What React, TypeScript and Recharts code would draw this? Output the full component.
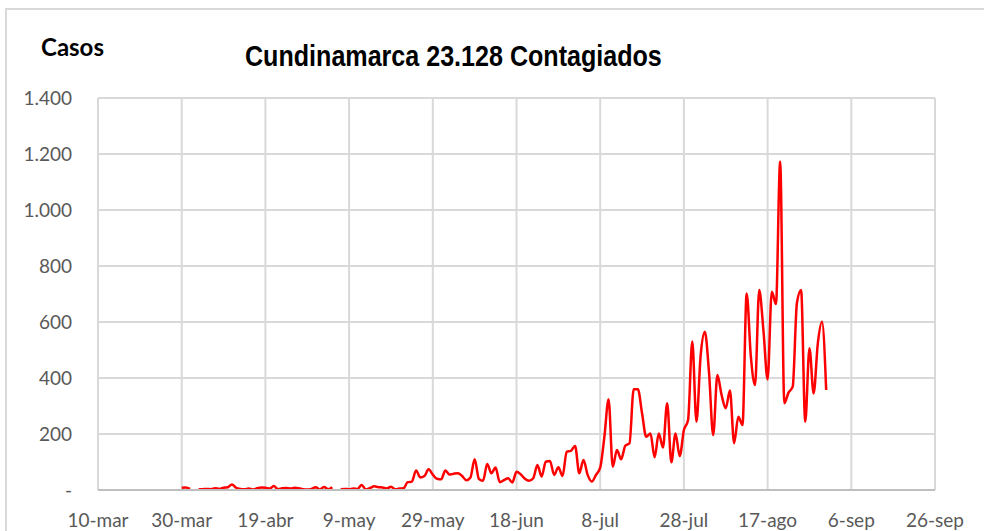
import { LineChart, Line, XAxis, YAxis, CartesianGrid } from 'recharts';

// dias contados desde el 10-mar
const xTicks = [0, 20, 40, 60, 80, 100, 120, 140, 160, 180, 200];
const xLabels = ['10-mar', '30-mar', '19-abr', '9-may', '29-may', '18-jun', '8-jul', '28-jul', '17-ago', '6-sep', '26-sep'];
const yTicks = [0, 200, 400, 600, 800, 1000, 1200, 1400];

// primer dato: 30-mar (dia 20)
const firstDay = 20;
const casos: (number | null)[] = [
  8, 9, 4, null, 2, 3, 4, 3, 6, 4,
  8, 10, 20, 8, 4, 3, 5, 2, 6, 9,
  8, 5, 14, 3, 6, 7, 5, 8, 6, 3,
  2, 4, 10, 2, 11, 3, 10, null, 3, 4,
  3, 5, 4, 18, 2, 7, 13, 10, 9, 5,
  12, 3, 5, 6, 28, 30, 70, 45, 50, 74,
  55, 40, 38, 70, 55, 58, 60, 50, 35, 45,
  110, 40, 33, 93, 60, 80, 28, 35, 42, 27,
  65, 56, 40, 33, 42, 89, 48, 101, 104, 54,
  81, 50, 137, 140, 157, 60, 107, 54, 30, 54,
  80, 190, 324, 83, 143, 110, 158, 167, 360, 360,
  274, 190, 202, 117, 202, 152, 310, 99, 202, 121,
  214, 250, 530, 244, 480, 565, 420, 196, 411, 340,
  292, 355, 167, 262, 232, 702, 476, 375, 714, 571,
  395, 708, 664, 1173, 310, 348, 369, 667, 714, 244,
  506, 345, 524, 601, 357,
];

const data = casos.map((v, i) => ({ dia: firstDay + i, casos: v }));

const fmtY = (v: number) => (v === 0 ? '-' : v.toString().replace(/\B(?=(\d{3})+(?!\d))/g, '.'));
const fmtX = (v: number) => xLabels[xTicks.indexOf(v)] ?? '';

const tickFont = { fontFamily: 'Lato, "Open Sans", sans-serif', fontSize: 19, fill: '#595959' };

export default function App() {
  return (
    <div style={{ position: 'fixed', left: 0, top: 0, width: 984, height: 531, background: '#fff', overflow: 'hidden' }}>
      <div
        style={{
          position: 'absolute', left: 5, top: 8, width: 1000, height: 600,
          border: '2px solid #d9d9d9', boxSizing: 'border-box',
        }}
      />
      <div
        style={{
          position: 'absolute', left: 41, top: 35, fontFamily: 'Lato, sans-serif',
          fontWeight: 700, fontSize: 24, lineHeight: 1, color: '#000', whiteSpace: 'nowrap',
        }}
      >
        Casos
      </div>
      <div
        style={{
          position: 'absolute', left: 245, top: 41.5, whiteSpace: 'nowrap',
          fontFamily: '"Liberation Sans", Arial, sans-serif', lineHeight: 1,
          fontWeight: 700, fontSize: 29, color: '#000',
          transform: 'scaleX(0.865)', transformOrigin: 'left top',
        }}
      >
        Cundinamarca 23.128 Contagiados
      </div>
      <div style={{ position: 'absolute', left: 0, top: 0 }}>
        <LineChart width={984} height={531} data={data} margin={{ top: 98, right: 49, bottom: 11, left: 38 }}>
          <CartesianGrid stroke="#d9d9d9" strokeWidth={2} />
          <XAxis
            dataKey="dia"
            type="number"
            domain={[0, 200]}
            ticks={xTicks}
            tickFormatter={fmtX}
            interval={0}
            height={30}
            tickLine={false}
            tickSize={0}
            tickMargin={24}
            stroke="#bfbfbf"
            strokeWidth={2}
            tick={tickFont}
          />
          <YAxis
            type="number"
            domain={[0, 1400]}
            ticks={yTicks}
            tickFormatter={fmtY}
            interval={0}
            width={60}
            axisLine={false}
            tickLine={false}
            tickSize={0}
            tickMargin={26}
            tick={tickFont}
          />
          <Line
            dataKey="casos"
            type="monotone"
            stroke="#ff0000"
            strokeWidth={2.5}
            dot={false}
            activeDot={false}
            isAnimationActive={false}
          />
        </LineChart>
      </div>
    </div>
  );
}
